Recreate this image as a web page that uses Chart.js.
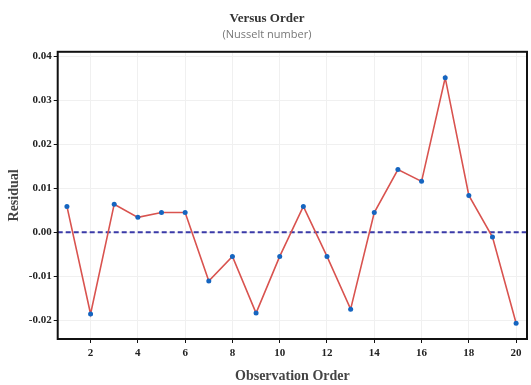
<!DOCTYPE html>
<html>
<head>
<meta charset="utf-8">
<script src="https://cdn.jsdelivr.net/npm/chart.js@4"></script>
<style>
  html, body { margin: 0; padding: 0; background: #fff; }
  #wrap { width: 531px; height: 385px; }
</style>
</head>
<body>
<div id="wrap"><canvas id="chartOrder"></canvas></div>
<script>
'use strict';

var observations = [1, 2, 3, 4, 5, 6, 7, 8, 9, 10, 11, 12, 13, 14, 15, 16, 17, 18, 19, 20];
var residuals = [0.0059, -0.0186, 0.0064, 0.0034, 0.0045, 0.0045, -0.0111, -0.0055, -0.0184, -0.0055,
                 0.0059, -0.0055, -0.0175, 0.0045, 0.0143, 0.0116, 0.0352, 0.0084, -0.0011, -0.0207];
var xTicks = [2, 4, 6, 8, 10, 12, 14, 16, 18, 20];
var yTicks = [-0.02, -0.01, 0.00, 0.01, 0.02, 0.03, 0.04];

var serif = '"Liberation Serif", "Times New Roman", serif';

// dashed reference line at zero + black frame round the plot
var framePlugin = {
  id: 'frame',
  beforeDatasetsDraw: function (chart) {
    var a = chart.chartArea;
    var ctx = chart.ctx;
    var y0 = chart.scales.y.getPixelForValue(0);
    ctx.save();
    ctx.strokeStyle = '#3a3aa8';
    ctx.lineWidth = 2;
    ctx.setLineDash([5, 3]);
    ctx.beginPath();
    ctx.moveTo(a.left, y0);
    ctx.lineTo(a.right, y0);
    ctx.stroke();
    ctx.restore();
  },
  afterDraw: function (chart) {
    var a = chart.chartArea;
    var ctx = chart.ctx;
    ctx.save();
    ctx.strokeStyle = '#111';
    ctx.lineWidth = 2;
    ctx.strokeRect(a.left, a.top, a.right - a.left, a.bottom - a.top);
    ctx.restore();
  }
};

new Chart(document.getElementById('chartOrder').getContext('2d'), {
  type: 'scatter',
  data: {
    datasets: [{
      label: 'Residual',
      data: observations.map(function (o, i) { return { x: o, y: residuals[i] }; }),
      showLine: true,
      borderColor: '#d9534f',
      borderWidth: 1.6,
      pointRadius: 2.5,
      pointBackgroundColor: '#1565c0',
      pointBorderColor: '#1565c0',
      pointBorderWidth: 0
    }]
  },
  options: {
    animation: false,
    responsive: true,
    maintainAspectRatio: false,
    layout: { padding: { left: 6, right: 3, top: 0, bottom: 0 } },
    plugins: {
      legend: { display: false },
      tooltip: { enabled: false },
      title: {
        display: true,
        text: 'Versus Order',
        color: '#333',
        font: { family: serif, size: 13, weight: 'bold' },
        padding: { top: 11, bottom: 2 }
      },
      subtitle: {
        display: true,
        text: '(Nusselt number)',
        color: '#777',
        font: { family: '"Open Sans", sans-serif', size: 11 },
        padding: { top: 0, bottom: 10 }
      }
    },
    scales: {
      x: {
        type: 'linear',
        min: 0.61,
        max: 20.46,
        afterBuildTicks: function (axis) {
          axis.ticks = xTicks.map(function (v) { return { value: v }; });
        },
        grid: { color: '#f0f0f0', lineWidth: 1, tickColor: '#111', tickLength: 4 },
        border: { display: false },
        ticks: {
          color: '#222',
          padding: 4,
          maxRotation: 0,
          font: { family: serif, size: 11, weight: 'bold' }
        },
        title: {
          display: true,
          text: 'Observation Order',
          color: '#444',
          font: { family: serif, size: 14, weight: 'bold' },
          padding: { top: 4, bottom: 0 }
        }
      },
      y: {
        min: -0.0243,
        max: 0.0411,
        afterBuildTicks: function (axis) {
          axis.ticks = yTicks.map(function (v) { return { value: v }; });
        },
        grid: { color: '#f0f0f0', lineWidth: 1, tickColor: '#111', tickLength: 4 },
        border: { display: false },
        ticks: {
          color: '#222',
          padding: 2,
          font: { family: serif, size: 11, weight: 'bold' },
          callback: function (v) { return v.toFixed(2); }
        },
        title: {
          display: true,
          text: 'Residual',
          color: '#444',
          font: { family: serif, size: 14, weight: 'bold' },
          padding: { top: 0, bottom: 4 }
        }
      }
    }
  },
  plugins: [framePlugin]
});
</script>
</body>
</html>
